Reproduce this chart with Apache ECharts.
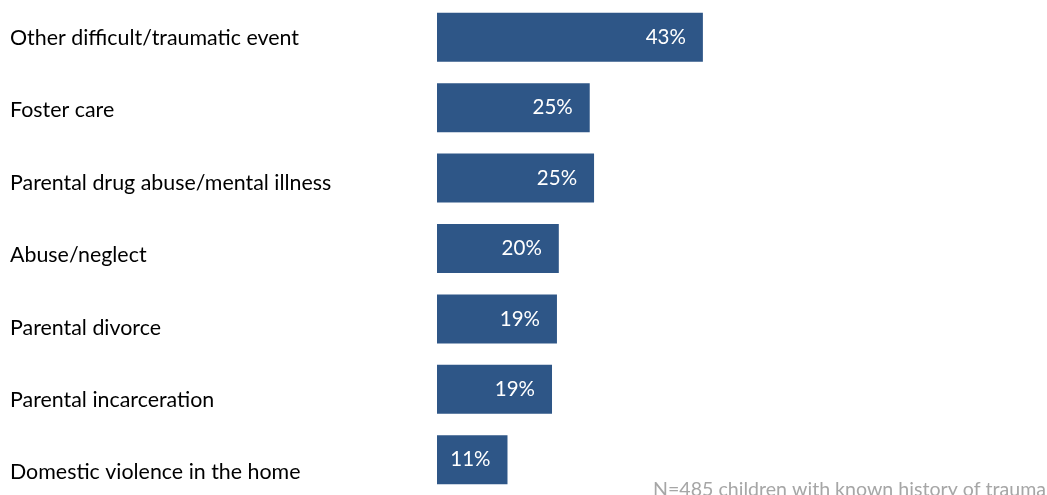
<!DOCTYPE html>
<html>
<head>
<meta charset="utf-8">
<script src="https://cdn.jsdelivr.net/npm/echarts@6/dist/echarts.min.js"></script>
<style>
  html, body { margin: 0; padding: 0; background: #fff; }
  #chart { width: 1047px; height: 495px; }
</style>
</head>
<body>
<div id="chart"></div>
<script>
// Childhood trauma categories, shares of children with a known history of trauma (%)
const categories = [
  'Other difficult/traumatic event',
  'Foster care',
  'Parental drug abuse/mental illness',
  'Abuse/neglect',
  'Parental divorce',
  'Parental incarceration',
  'Domestic violence in the home'
];
const shares = [43, 24.7, 25.4, 19.7, 19.4, 18.6, 11.4];
const noteText = 'N=485 children with known history of trauma';

const FONT = 'Lato';
const BAR_COLOR = '#2E5687';

const chart = echarts.init(document.getElementById('chart'), null, { renderer: 'canvas' });

chart.setOption({
  animation: false,
  backgroundColor: '#ffffff',
  title: {
    text: noteText,
    left: 648,
    top: 475,
    textStyle: { fontFamily: FONT, fontSize: 19.6, fontWeight: 'normal', color: '#A6A6A6' }
  },
  grid: [
    // bars
    { left: 437, top: 2, width: 371, height: 496, containLabel: false },
    // category labels, spaced on their own rows
    { left: 437, top: 38, width: 371, height: 434.5, containLabel: false }
  ],
  xAxis: [
    { gridIndex: 0, type: 'value', min: 0, max: 60, show: false },
    { gridIndex: 1, type: 'value', min: 0, max: 60, show: false }
  ],
  yAxis: [
    {
      gridIndex: 0, type: 'category', data: categories, inverse: true,
      axisLine: { show: false }, axisTick: { show: false }, axisLabel: { show: false }, splitLine: { show: false }
    },
    {
      gridIndex: 1, type: 'category', data: categories, inverse: true, boundaryGap: false,
      axisLine: { show: false }, axisTick: { show: false }, splitLine: { show: false },
      axisLabel: {
        show: true, align: 'left', margin: 427, interval: 0,
        fontFamily: FONT, fontSize: 21.4, color: '#000000'
      }
    }
  ],
  series: [{
    type: 'bar',
    xAxisIndex: 0,
    yAxisIndex: 0,
    data: shares,
    barWidth: 49,
    itemStyle: { color: BAR_COLOR },
    label: {
      show: true,
      position: 'insideRight',
      distance: 17,
      fontFamily: FONT,
      fontSize: 20.5,
      color: '#ffffff',
      formatter: p => Math.round(p.value) + '%'
    }
  }]
});
</script>
</body>
</html>
